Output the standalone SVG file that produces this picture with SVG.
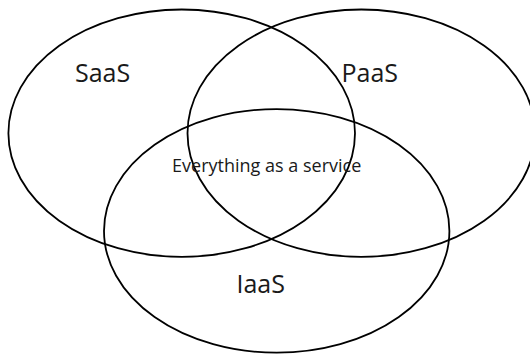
<svg xmlns="http://www.w3.org/2000/svg" width="530" height="354" viewBox="0 0 530 354">
<style>
.set{fill:none;stroke:#000;stroke-width:1.8}
.lbl{font-family:"Open Sans","Liberation Sans",sans-serif;fill:#1a1a1a}
.big{font-size:25px}
.small{font-size:18px}
</style>
<rect width="530" height="354" fill="#fff"/>
<g id="saas">
<ellipse class="set" cx="181.7" cy="133.2" rx="173.3" ry="123.7"/>
<text class="lbl big" x="75" y="81.7">SaaS</text>
</g>
<g id="paas">
<ellipse class="set" cx="361.3" cy="133.2" rx="173.8" ry="123.7"/>
<text class="lbl big" x="341.5" y="81.7">PaaS</text>
</g>
<g id="iaas">
<ellipse class="set" cx="276.7" cy="230.9" rx="172.7" ry="121.8"/>
<text class="lbl big" x="236.5" y="292.7">IaaS</text>
</g>
<g id="xaas">
<text class="lbl small" x="266.7" y="172.3" text-anchor="middle">Everything as a service</text>
</g>
<g id="connectors"/>
</svg>
